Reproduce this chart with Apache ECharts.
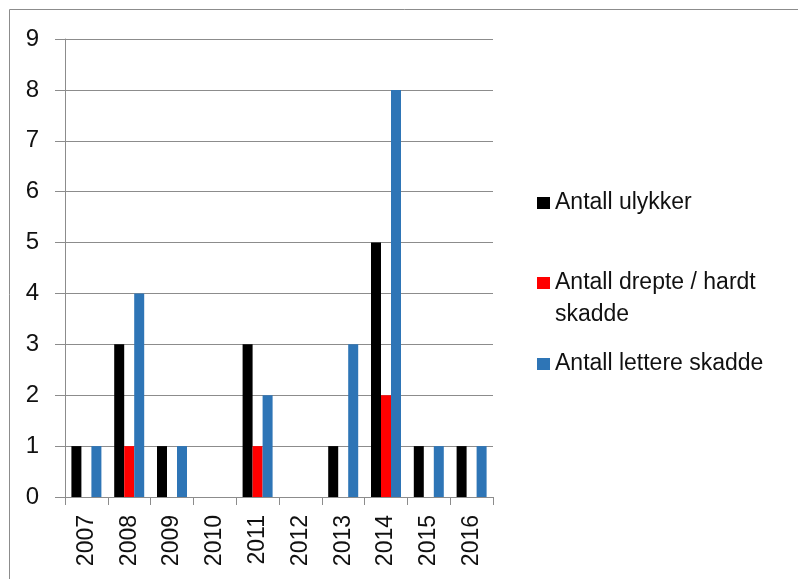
<!DOCTYPE html>
<html>
<head>
<meta charset="utf-8">
<script src="https://cdn.jsdelivr.net/npm/echarts@6/dist/echarts.min.js"></script>
<style>
html,body{margin:0;padding:0;background:#fff;}
#c{width:798px;height:579px;}
</style>
</head>
<body>
<div id="c"></div>
<script>
const years = ['2007','2008','2009','2010','2011','2012','2013','2014','2015','2016'];
const ulykker = [1,3,1,0,3,0,1,5,1,1];
const drepte = [0,1,0,0,1,0,0,2,0,0];
const lettere = [1,4,1,0,2,0,3,8,1,1];
const seriesNames = ['Antall ulykker','Antall drepte / hardt skadde','Antall lettere skadde'];
const colors = ['#000000','#ff0000','#2e75b6'];

const font = '"Liberation Sans", Arial, sans-serif';
const chart = echarts.init(document.getElementById('c'), null, {renderer:'canvas'});
const legendBase = {
  orient:'vertical', left:537, padding:0, itemWidth:13, itemHeight:12, itemGap:9,
  icon:'rect', selectedMode:false,
  textStyle:{fontFamily:font, fontSize:23, color:'#111', lineHeight:32}
};
chart.setOption({
  animation:false,
  color: colors,
  graphic:[{type:'rect', shape:{x:9.5,y:9.5,width:820,height:600}, style:{fill:'none', stroke:'#8c8c8c', lineWidth:1}, silent:true}],
  grid:{left:65, right:305, top:39, bottom:82},
  legend:[
    Object.assign({}, legendBase, {top:187, data:[seriesNames[0]]}),
    Object.assign({}, legendBase, {top:235, data:[seriesNames[1]],
      formatter:()=> ' \nAntall drepte / hardt\nskadde'}),
    Object.assign({}, legendBase, {top:348, data:[seriesNames[2]]})
  ],
  xAxis:{
    type:'category', data:years,
    axisLine:{lineStyle:{color:'#8c8c8c'}},
    axisTick:{show:true, length:8, lineStyle:{color:'#8c8c8c'}},
    axisLabel:{rotate:90, margin:18, fontFamily:font, fontSize:23, color:'#111'}
  },
  yAxis:{
    type:'value', min:0, max:9, interval:1,
    axisLine:{show:true, lineStyle:{color:'#8c8c8c'}},
    axisTick:{show:true, length:10, lineStyle:{color:'#8c8c8c'}},
    axisLabel:{margin:26, fontFamily:font, fontSize:24, color:'#111'},
    splitLine:{lineStyle:{color:'#8c8c8c'}}
  },
  series:[
    {name:seriesNames[0], type:'bar', data:ulykker, barWidth:10, barGap:'0%'},
    {name:seriesNames[1], type:'bar', data:drepte, barWidth:10, barGap:'0%'},
    {name:seriesNames[2], type:'bar', data:lettere, barWidth:10, barGap:'0%'}
  ]
});
</script>
</body>
</html>
